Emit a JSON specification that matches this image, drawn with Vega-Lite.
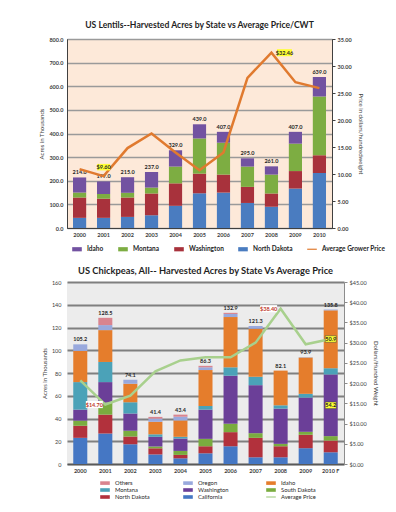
{
  "$schema": "https://vega.github.io/schema/vega-lite/v6.json",
  "background": "white",
  "padding": {"left": 38, "top": 20, "right": 0, "bottom": 0},
  "config": {
    "font": "Lato",
    "view": {"stroke": null},
    "axis": {"labelFont": "Lato", "titleFont": "Lato", "labelColor": "#404040", "titleColor": "#404040", "labelOverlap": false},
    "legend": {"labelFont": "Lato", "labelColor": "#262626"}
  },
  "datasets": {
    "lentils": [
      {"year": "2000", "state": "North Dakota", "acres": 43}, {"year": "2000", "state": "Washington", "acres": 86}, {"year": "2000", "state": "Montana", "acres": 21}, {"year": "2000", "state": "Idaho", "acres": 64},
      {"year": "2001", "state": "North Dakota", "acres": 43}, {"year": "2001", "state": "Washington", "acres": 81}, {"year": "2001", "state": "Montana", "acres": 20}, {"year": "2001", "state": "Idaho", "acres": 53},
      {"year": "2002", "state": "North Dakota", "acres": 47}, {"year": "2002", "state": "Washington", "acres": 82}, {"year": "2002", "state": "Montana", "acres": 20}, {"year": "2002", "state": "Idaho", "acres": 66},
      {"year": "2003", "state": "North Dakota", "acres": 54}, {"year": "2003", "state": "Washington", "acres": 92}, {"year": "2003", "state": "Montana", "acres": 25}, {"year": "2003", "state": "Idaho", "acres": 66},
      {"year": "2004", "state": "North Dakota", "acres": 94}, {"year": "2004", "state": "Washington", "acres": 95}, {"year": "2004", "state": "Montana", "acres": 71}, {"year": "2004", "state": "Idaho", "acres": 69},
      {"year": "2005", "state": "North Dakota", "acres": 147}, {"year": "2005", "state": "Washington", "acres": 83}, {"year": "2005", "state": "Montana", "acres": 149}, {"year": "2005", "state": "Idaho", "acres": 60},
      {"year": "2006", "state": "North Dakota", "acres": 150}, {"year": "2006", "state": "Washington", "acres": 76}, {"year": "2006", "state": "Montana", "acres": 135}, {"year": "2006", "state": "Idaho", "acres": 46},
      {"year": "2007", "state": "North Dakota", "acres": 106}, {"year": "2007", "state": "Washington", "acres": 68}, {"year": "2007", "state": "Montana", "acres": 86}, {"year": "2007", "state": "Idaho", "acres": 35},
      {"year": "2008", "state": "North Dakota", "acres": 90}, {"year": "2008", "state": "Washington", "acres": 56}, {"year": "2008", "state": "Montana", "acres": 80}, {"year": "2008", "state": "Idaho", "acres": 35},
      {"year": "2009", "state": "North Dakota", "acres": 167}, {"year": "2009", "state": "Washington", "acres": 74}, {"year": "2009", "state": "Montana", "acres": 116}, {"year": "2009", "state": "Idaho", "acres": 50},
      {"year": "2010", "state": "North Dakota", "acres": 233}, {"year": "2010", "state": "Washington", "acres": 75}, {"year": "2010", "state": "Montana", "acres": 249}, {"year": "2010", "state": "Idaho", "acres": 82}
    ],
    "lentilPrice": [
      {"year": "2000", "price": 10.9, "label": ""},
      {"year": "2001", "price": 9.6, "label": "$9.60"},
      {"year": "2002", "price": 14.8, "label": ""},
      {"year": "2003", "price": 17.5, "label": ""},
      {"year": "2004", "price": 14.0, "label": ""},
      {"year": "2005", "price": 10.7, "label": ""},
      {"year": "2006", "price": 14.0, "label": ""},
      {"year": "2007", "price": 27.8, "label": ""},
      {"year": "2008", "price": 32.46, "label": "$32.46"},
      {"year": "2009", "price": 27.0, "label": ""},
      {"year": "2010", "price": 25.9, "label": ""}
    ],
    "chickpeas": [
      {"year": "2000", "state": "California", "acres": 23.0}, {"year": "2000", "state": "North Dakota", "acres": 10.6}, {"year": "2000", "state": "South Dakota", "acres": 4.5}, {"year": "2000", "state": "Washington", "acres": 9.7}, {"year": "2000", "state": "Montana", "acres": 24.2}, {"year": "2000", "state": "Idaho", "acres": 27.4}, {"year": "2000", "state": "Oregon", "acres": 5.8},
      {"year": "2001", "state": "California", "acres": 26.8}, {"year": "2001", "state": "North Dakota", "acres": 16.6}, {"year": "2001", "state": "South Dakota", "acres": 10.6}, {"year": "2001", "state": "Washington", "acres": 18.0}, {"year": "2001", "state": "Montana", "acres": 17.7}, {"year": "2001", "state": "Idaho", "acres": 28.0}, {"year": "2001", "state": "Oregon", "acres": 4.4}, {"year": "2001", "state": "Others", "acres": 6.4},
      {"year": "2002", "state": "California", "acres": 17.4}, {"year": "2002", "state": "North Dakota", "acres": 6.8}, {"year": "2002", "state": "South Dakota", "acres": 5.0}, {"year": "2002", "state": "Washington", "acres": 15.3}, {"year": "2002", "state": "Montana", "acres": 9.8}, {"year": "2002", "state": "Idaho", "acres": 16.2}, {"year": "2002", "state": "Oregon", "acres": 3.6},
      {"year": "2003", "state": "California", "acres": 8.4}, {"year": "2003", "state": "North Dakota", "acres": 5.4}, {"year": "2003", "state": "South Dakota", "acres": 1.6}, {"year": "2003", "state": "Washington", "acres": 8.5}, {"year": "2003", "state": "Montana", "acres": 2.2}, {"year": "2003", "state": "Idaho", "acres": 11.0}, {"year": "2003", "state": "Oregon", "acres": 2.8}, {"year": "2003", "state": "Others", "acres": 1.5},
      {"year": "2004", "state": "California", "acres": 5.0}, {"year": "2004", "state": "North Dakota", "acres": 3.0}, {"year": "2004", "state": "South Dakota", "acres": 3.5}, {"year": "2004", "state": "Washington", "acres": 10.9}, {"year": "2004", "state": "Montana", "acres": 1.5}, {"year": "2004", "state": "Idaho", "acres": 14.4}, {"year": "2004", "state": "Oregon", "acres": 3.3}, {"year": "2004", "state": "Others", "acres": 1.8},
      {"year": "2005", "state": "California", "acres": 9.4}, {"year": "2005", "state": "North Dakota", "acres": 6.2}, {"year": "2005", "state": "South Dakota", "acres": 6.5}, {"year": "2005", "state": "Washington", "acres": 25.7}, {"year": "2005", "state": "Montana", "acres": 3.2}, {"year": "2005", "state": "Idaho", "acres": 31.6}, {"year": "2005", "state": "Oregon", "acres": 2.4}, {"year": "2005", "state": "Others", "acres": 1.3},
      {"year": "2006", "state": "California", "acres": 15.6}, {"year": "2006", "state": "North Dakota", "acres": 12.4}, {"year": "2006", "state": "South Dakota", "acres": 7.4}, {"year": "2006", "state": "Washington", "acres": 42.2}, {"year": "2006", "state": "Montana", "acres": 7.4}, {"year": "2006", "state": "Idaho", "acres": 44.2}, {"year": "2006", "state": "Oregon", "acres": 2.7}, {"year": "2006", "state": "Others", "acres": 1.0},
      {"year": "2007", "state": "California", "acres": 5.9}, {"year": "2007", "state": "North Dakota", "acres": 17.1}, {"year": "2007", "state": "South Dakota", "acres": 4.1}, {"year": "2007", "state": "Washington", "acres": 42.2}, {"year": "2007", "state": "Montana", "acres": 7.4}, {"year": "2007", "state": "Idaho", "acres": 42.2}, {"year": "2007", "state": "Oregon", "acres": 2.4},
      {"year": "2008", "state": "California", "acres": 5.9}, {"year": "2008", "state": "North Dakota", "acres": 9.7}, {"year": "2008", "state": "South Dakota", "acres": 2.1}, {"year": "2008", "state": "Washington", "acres": 31.0}, {"year": "2008", "state": "Montana", "acres": 2.9}, {"year": "2008", "state": "Idaho", "acres": 30.5},
      {"year": "2009", "state": "California", "acres": 13.9}, {"year": "2009", "state": "North Dakota", "acres": 11.8}, {"year": "2009", "state": "South Dakota", "acres": 2.6}, {"year": "2009", "state": "Washington", "acres": 30.1}, {"year": "2009", "state": "Montana", "acres": 3.3}, {"year": "2009", "state": "Idaho", "acres": 31.9}, {"year": "2009", "state": "Oregon", "acres": 0.3},
      {"year": "2010 F", "state": "California", "acres": 10.3}, {"year": "2010 F", "state": "North Dakota", "acres": 10.3}, {"year": "2010 F", "state": "South Dakota", "acres": 3.9}, {"year": "2010 F", "state": "Washington", "acres": 54.2}, {"year": "2010 F", "state": "Montana", "acres": 5.5}, {"year": "2010 F", "state": "Idaho", "acres": 50.9}, {"year": "2010 F", "state": "Oregon", "acres": 0.7}
    ],
    "chickPrice": [
      {"year": "2000", "price": 20.7, "label": ""},
      {"year": "2001", "price": 14.7, "label": "$14.70"},
      {"year": "2002", "price": 16.9, "label": ""},
      {"year": "2003", "price": 22.9, "label": ""},
      {"year": "2004", "price": 25.6, "label": ""},
      {"year": "2005", "price": 26.4, "label": ""},
      {"year": "2006", "price": 26.4, "label": ""},
      {"year": "2007", "price": 30.0, "label": ""},
      {"year": "2008", "price": 38.4, "label": "$38.40"},
      {"year": "2009", "price": 29.6, "label": ""},
      {"year": "2010 F", "price": 30.9, "label": "50.9"}
    ]
  },
  "vconcat": [
    {
      "title": {"text": "US Lentils--Harvested Acres by State vs Average Price/CWT", "fontSize": 8.6, "font": "Lato", "fontWeight": "bold", "color": "#1f1f1f", "offset": 7},
      "width": 265,
      "height": 189,
      "view": {"fill": "#fde9d9", "stroke": "#404040", "strokeWidth": 1},
      "layer": [
        {
          "layer": [
            {
              "data": {"name": "lentils"},
              "transform": [{"calculate": "indexof(['North Dakota','Washington','Montana','Idaho'], datum.state)", "as": "ord"}],
              "mark": {"type": "bar"},
              "encoding": {
                "x": {"field": "year", "type": "ordinal", "scale": {"paddingInner": 0.45, "paddingOuter": 0.25},
                  "axis": {"title": null, "labelAngle": 0, "ticks": false, "labelFontSize": 5.5, "labelFontWeight": "bold", "domainColor": "#404040", "labelPadding": 4}},
                "y": {"field": "acres", "type": "quantitative", "stack": "zero", "scale": {"domain": [0, 800], "nice": false},
                  "axis": {"values": [0, 100, 200, 300, 400, 500, 600, 700, 800], "tickCount": 9, "format": ".1f", "title": "Acres in Thousands", "titleFontSize": 6, "titleFontWeight": "normal", "titlePadding": 4, "labelFontSize": 5.5, "labelFontWeight": "bold", "ticks": false, "labelPadding": 4, "domainColor": "#404040", "grid": true, "gridColor": "#9a9a9a", "gridWidth": 1.5}},
                "color": {"field": "state", "type": "nominal",
                  "scale": {"domain": ["Idaho", "Montana", "Washington", "North Dakota", "Average Grower Price"], "range": ["#7252a1", "#7dad42", "#a8323c", "#4a7cc0", "#e07a2f"]},
                  "legend": {"orient": "bottom", "direction": "horizontal", "title": null, "labelFontSize": 6.5, "labelFontWeight": "bold", "symbolType": "M-1.6,-0.7H1.6V0.7H-1.6Z", "symbolSize": 36, "symbolOffset": 6, "columnPadding": 9, "labelOffset": 6, "offset": 7,
                    "encode": {"symbols": {"update": {"shape": {"signal": "datum.value === 'Average Grower Price' ? 'M-1.6,-0.2H1.6V0.2H-1.6Z' : 'M-1.6,-0.7H1.6V0.7H-1.6Z'"}}}}}},
                "order": {"field": "ord", "type": "quantitative"}
              }
            },
            {
              "data": {"name": "lentils"},
              "mark": {"type": "text", "dy": -5, "fontSize": 5.5, "fontWeight": "bold", "color": "#262626"},
              "encoding": {
                "x": {"field": "year", "type": "ordinal"},
                "y": {"aggregate": "sum", "field": "acres", "type": "quantitative",
                  "axis": {"values": [0, 100, 200, 300, 400, 500, 600, 700, 800], "tickCount": 9, "format": ".1f", "title": "Acres in Thousands", "titleFontSize": 6, "titleFontWeight": "normal", "titlePadding": 4, "labelFontSize": 5.5, "labelFontWeight": "bold", "ticks": false, "labelPadding": 4, "domainColor": "#404040", "grid": true, "gridColor": "#9a9a9a", "gridWidth": 1.5}},
                "text": {"aggregate": "sum", "field": "acres", "type": "quantitative", "format": ".1f"}
              }
            }
          ]
        },
        {
          "data": {"name": "lentilPrice"},
          "encoding": {
            "x": {"field": "year", "type": "ordinal"},
            "y": {"field": "price", "type": "quantitative", "scale": {"domain": [0, 35], "nice": false},
              "axis": {"orient": "right", "values": [0, 5, 10, 15, 20, 25, 30, 35], "tickCount": 8, "format": ".2f", "title": "Price in dollars/hundredweight", "titleFontSize": 6, "titleFontWeight": "normal", "titlePadding": 6, "labelFontSize": 5.5, "labelFontWeight": "bold", "tickSize": 3, "tickColor": "#404040", "domainColor": "#404040", "grid": false}}
          },
          "layer": [
            {"mark": {"type": "line", "color": "#e07a2f", "strokeWidth": 2.5}},
            {
              "transform": [{"filter": "datum.year == '2001'"}],
              "layer": [
                {"mark": {"type": "point", "shape": "M-1,-0.5H1V0.5H-1Z", "size": 169, "filled": true, "color": "#ffff33", "opacity": 1, "yOffset": -9}},
                {"mark": {"type": "text", "fontSize": 5.5, "fontWeight": "bold", "color": "#262626", "dy": -9}, "encoding": {"text": {"field": "label"}}}
              ]
            },
            {
              "transform": [{"filter": "datum.year == '2008'"}],
              "layer": [
                {"mark": {"type": "point", "shape": "M-1,-0.47H1V0.47H-1Z", "size": 225, "filled": true, "color": "#ffff33", "opacity": 1, "xOffset": 13}},
                {"mark": {"type": "text", "fontSize": 5.5, "fontWeight": "bold", "color": "#262626", "dx": 13}, "encoding": {"text": {"field": "label"}}}
              ]
            }
          ]
        }
      ],
      "resolve": {"scale": {"y": "independent"}}
    },
    {
      "title": {"text": "US Chickpeas, All-- Harvested Acres by State Vs Average Price", "fontSize": 9.3, "font": "Lato", "fontWeight": "bold", "color": "#1f1f1f", "offset": 4},
      "width": 277,
      "height": 182,
      "view": {"fill": "#ececec", "stroke": null},
      "layer": [
        {
          "data": {"name": "chickpeas"},
          "transform": [
            {"calculate": "indexof(['California','North Dakota','South Dakota','Washington','Montana','Idaho','Oregon','Others'], datum.state)", "as": "ord"}
          ],
          "layer": [
            {
              "mark": {"type": "bar"},
              "encoding": {
                "x": {"field": "year", "type": "ordinal", "scale": {"paddingInner": 0.44, "paddingOuter": 0.25},
                  "axis": {"title": null, "labelAngle": 0, "ticks": false, "labelFontSize": 5.5, "labelFontWeight": "bold", "domainColor": "#595959", "domainWidth": 1.5, "labelPadding": 4}},
                "y": {"field": "acres", "type": "quantitative", "stack": "zero", "scale": {"domain": [0, 160], "nice": false},
                  "axis": {"values": [0, 20, 40, 60, 80, 100, 120, 140, 160], "tickCount": 9, "format": "d", "title": "Acres in Thousands", "titleFontSize": 6, "titleFontWeight": "normal", "titlePadding": 4, "labelFontSize": 5.5, "ticks": false, "labelPadding": 6, "domain": false, "grid": true, "gridColor": "#7f7f7f", "gridWidth": 2}},
                "color": {"field": "state", "type": "nominal",
                  "scale": {"domain": ["Others", "Oregon", "Idaho", "Montana", "Washington", "South Dakota", "North Dakota", "California", "Average Price"], "range": ["#d9848f", "#99a9dd", "#e57d2c", "#4ba2b8", "#6b3f98", "#7aac3f", "#b2313c", "#4577c4", "#a8d08d"]},
                  "legend": {"orient": "bottom", "direction": "horizontal", "columns": 3, "gridAlign": "all", "title": null, "labelFontSize": 5.8, "labelLimit": 60, "symbolType": "M-1.6,-0.6H1.6V0.6H-1.6Z", "symbolSize": 36, "symbolOffset": 34, "columnPadding": -14, "rowPadding": 0, "labelOffset": 6, "offset": 5,
                    "encode": {"symbols": {"update": {"shape": {"signal": "datum.value === 'Average Price' ? 'M-1.6,-0.2H1.6V0.2H-1.6Z' : 'M-1.6,-0.6H1.6V0.6H-1.6Z'"}}}}}},
                "order": {"field": "ord", "type": "quantitative"}
              }
            },
            {
              "mark": {"type": "text", "dy": -5, "fontSize": 5.5, "fontWeight": "bold", "color": "#262626"},
              "encoding": {
                "x": {"field": "year", "type": "ordinal"},
                "y": {"aggregate": "sum", "field": "acres", "type": "quantitative",
                  "axis": {"values": [0, 20, 40, 60, 80, 100, 120, 140, 160], "tickCount": 9, "format": "d", "title": "Acres in Thousands", "titleFontSize": 6, "titleFontWeight": "normal", "titlePadding": 4, "labelFontSize": 5.5, "ticks": false, "labelPadding": 6, "domain": false, "grid": true, "gridColor": "#7f7f7f", "gridWidth": 2}},
                "text": {"aggregate": "sum", "field": "acres", "type": "quantitative", "format": ".1f"}
              }
            },
            {
              "transform": [
                {"stack": "acres", "groupby": ["year"], "sort": [{"field": "ord"}], "as": ["lo", "hi"]},
                {"filter": "datum.year == '2010 F' && datum.state == 'Washington'"},
                {"calculate": "(datum.lo + datum.hi) / 2", "as": "mid"}
              ],
              "encoding": {
                "x": {"field": "year", "type": "ordinal"},
                "y": {"field": "mid", "type": "quantitative",
                  "axis": {"values": [0, 20, 40, 60, 80, 100, 120, 140, 160], "tickCount": 9, "format": "d", "title": "Acres in Thousands", "titleFontSize": 6, "titleFontWeight": "normal", "titlePadding": 4, "labelFontSize": 5.5, "ticks": false, "labelPadding": 6, "domain": false, "grid": true, "gridColor": "#7f7f7f", "gridWidth": 2}}
              },
              "layer": [
                {"mark": {"type": "point", "shape": "M-1,-0.6H1V0.6H-1Z", "size": 121, "filled": true, "color": "#ffff33", "stroke": "#404040", "strokeWidth": 0.5, "opacity": 1}},
                {"mark": {"type": "text", "fontSize": 5.5, "fontWeight": "bold", "color": "#262626"}, "encoding": {"text": {"field": "acres", "type": "quantitative", "format": ".1f"}}}
              ]
            }
          ]
        },
        {
          "data": {"name": "chickPrice"},
          "encoding": {
            "x": {"field": "year", "type": "ordinal"},
            "y": {"field": "price", "type": "quantitative", "scale": {"domain": [0, 45], "nice": false},
              "axis": {"orient": "right", "values": [0, 5, 10, 15, 20, 25, 30, 35, 40, 45], "tickCount": 10, "format": "$.2f", "title": "Dollars/Hundred Weight", "titleFontSize": 6, "titleFontWeight": "normal", "titlePadding": 6, "labelFontSize": 5.5, "tickSize": 3, "tickColor": "#8c8c8c", "domainColor": "#8c8c8c", "grid": false}}
          },
          "layer": [
            {"mark": {"type": "line", "color": "#a8d08d", "strokeWidth": 2.5}},
            {
              "transform": [{"filter": "datum.year == '2001'"}],
              "layer": [
                {"mark": {"type": "point", "shape": "M-1,-0.42H1V0.42H-1Z", "size": 289, "filled": true, "color": "#ffffff", "opacity": 1, "xOffset": -11}},
                {"mark": {"type": "text", "fontSize": 5.5, "fontWeight": "bold", "color": "#c0392b", "dx": -11}, "encoding": {"text": {"field": "label"}}}
              ]
            },
            {
              "transform": [{"filter": "datum.year == '2008'"}],
              "layer": [
                {"mark": {"type": "point", "shape": "M-1,-0.42H1V0.42H-1Z", "size": 289, "filled": true, "color": "#ffffff", "opacity": 1, "xOffset": -12}},
                {"mark": {"type": "text", "fontSize": 5.5, "fontWeight": "bold", "color": "#c0392b", "dx": -12}, "encoding": {"text": {"field": "label"}}}
              ]
            },
            {
              "transform": [{"filter": "datum.year == '2010 F'"}],
              "layer": [
                {"mark": {"type": "point", "shape": "M-1,-0.6H1V0.6H-1Z", "size": 121, "filled": true, "color": "#ffff33", "stroke": "#404040", "strokeWidth": 0.5, "opacity": 1}},
                {"mark": {"type": "text", "fontSize": 5.5, "fontWeight": "bold", "color": "#262626"}, "encoding": {"text": {"field": "label"}}}
              ]
            }
          ]
        }
      ],
      "resolve": {"scale": {"y": "independent"}}
    }
  ],
  "align": "none",
  "spacing": 12,
  "resolve": {"scale": {"color": "independent", "x": "independent", "y": "independent"}, "legend": {"color": "independent"}}
}
